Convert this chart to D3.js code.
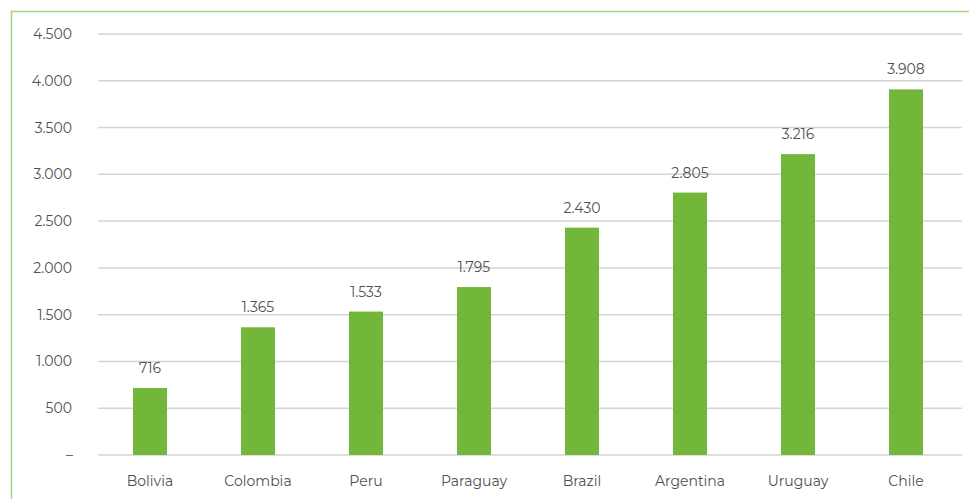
<!DOCTYPE html>
<html>
<head>
<meta charset="utf-8">
<script src="https://cdn.jsdelivr.net/npm/d3@7"></script>
<style>
  html, body { margin: 0; padding: 0; background: #ffffff; }
  svg { display: block; font-family: "Montserrat", "Lato", "Open Sans", sans-serif; }
</style>
</head>
<body>
<svg id="chart" width="969" height="499"></svg>
<script>
const countries = ["Bolivia", "Colombia", "Peru", "Paraguay", "Brazil", "Argentina", "Uruguay", "Chile"];
const values = [716, 1365, 1533, 1795, 2430, 2805, 3216, 3908];
const tickValues = [0, 500, 1000, 1500, 2000, 2500, 3000, 3500, 4000, 4500];
const tickLabels = ["–", "500", "1.000", "1.500", "2.000", "2.500", "3.000", "3.500", "4.000", "4.500"];

const fmt = v => d3.format(",")(v).replace(/,/g, ".");

const svg = d3.select("#chart");
const W = 969, H = 499;

// frame along the left and top edges
svg.append("path")
  .attr("d", `M11.5,${H} L11.5,11.5 L${W},11.5`)
  .attr("fill", "none")
  .attr("stroke", "#a6d17f")
  .attr("stroke-width", 1.5);

const x = d3.scaleBand().domain(countries).range([96, 960]).paddingInner(0.685).paddingOuter(0.3425);
const y = d3.scaleLinear().domain([0, 4500]).range([455, 34]);

// gridlines
svg.append("g").selectAll("line").data(tickValues).join("line")
  .attr("x1", 98).attr("x2", 962)
  .attr("y1", d => y(d)).attr("y2", d => y(d))
  .attr("stroke", "#d4d4d4").attr("stroke-width", 1.5);

// y tick labels
svg.append("g").selectAll("text").data(tickValues).join("text")
  .attr("x", (d, i) => i === 0 ? 73 : 72)
  .attr("y", d => y(d) + 5)
  .attr("text-anchor", "end")
  .attr("font-size", 14)
  .attr("fill", "#505050")
  .text((d, i) => tickLabels[i]);

// bars
svg.append("g").selectAll("rect").data(values).join("rect")
  .attr("x", (d, i) => x(countries[i]))
  .attr("width", x.bandwidth())
  .attr("y", d => y(d))
  .attr("height", d => y(0) - y(d))
  .attr("fill", "#72b73a");

// value labels
svg.append("g").selectAll("text").data(values).join("text")
  .attr("x", (d, i) => x(countries[i]) + x.bandwidth() / 2)
  .attr("y", d => y(d) - 15)
  .attr("text-anchor", "middle")
  .attr("font-size", 14)
  .attr("fill", "#505050")
  .text(d => fmt(d));

// category labels
svg.append("g").selectAll("text").data(countries).join("text")
  .attr("x", d => x(d) + x.bandwidth() / 2)
  .attr("y", 486)
  .attr("text-anchor", "middle")
  .attr("font-size", 14)
  .attr("fill", "#505050")
  .text(d => d);
</script>
</body>
</html>
